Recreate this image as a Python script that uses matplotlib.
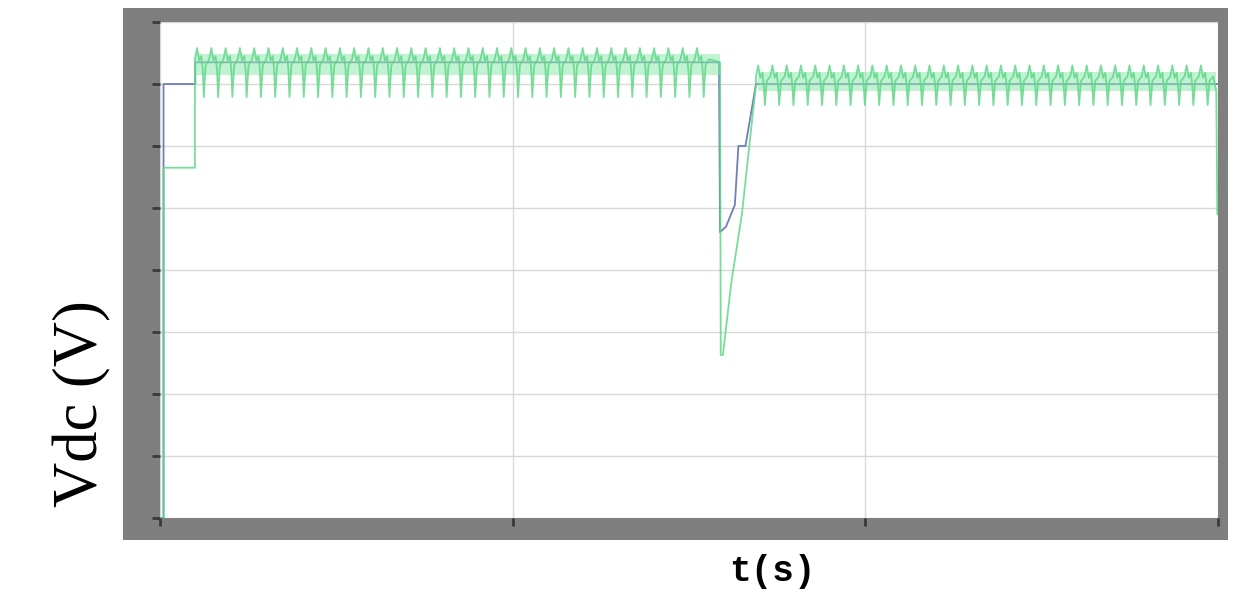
import numpy as np
import matplotlib.pyplot as plt
from matplotlib.patches import Rectangle

# --- values (t in s, Vdc in V) ---
# reference / measured DC-link voltage, corner points
blue_t = [0.0, 0.001, 0.001, 0.010, 0.010, 0.1585, 0.1588, 0.1605, 0.1630, 0.1640, 0.1660, 0.1690, 0.3000]
blue_v = [0, 0, 700, 700, 735, 735, 461, 470, 505, 600, 600, 700, 700]

# green trace: start-up, dip and recovery corner points
green_start_t = [0.0, 0.001, 0.001, 0.0099]
green_start_v = [0, 0, 565, 565]
green_dip_t = [0.1588, 0.1590, 0.1596, 0.1620, 0.1650, 0.1690]
green_dip_v = [735, 263, 263, 380, 490, 700]
green_end_t = [0.2995, 0.2998]
green_end_v = [690, 490]

# one ripple period (fraction of period, voltage) for each steady segment
tooth_frac = [0.0, 0.15, 0.30, 0.45, 0.55, 0.62, 0.75, 1.0]
tooth1_v = [740, 758, 738, 745, 722, 679, 730, 740]
tooth2_v = [712, 730, 710, 718, 695, 666, 705, 712]
seg1 = (0.0099, 0.1588)
seg2 = (0.1690, 0.2995)
period = 0.00405

# dense part of the ripple band (lower, upper) per segment
band1 = (715, 748)
band2 = (688, 720)


def ripple(t0, t1, vals):
    n = int((t1 - t0) / period)
    tt, vv = [], []
    for k in range(n):
        for f, v in zip(tooth_frac, vals):
            tt.append(t0 + (k + f) * period)
            vv.append(v)
    return tt, vv


r1_t, r1_v = ripple(seg1[0], seg1[1], tooth1_v)
r2_t, r2_v = ripple(seg2[0], seg2[1], tooth2_v)
green_t = green_start_t + r1_t + green_dip_t + r2_t + green_end_t
green_v = green_start_v + r1_v + green_dip_v + r2_v + green_end_v

fig = plt.figure(figsize=(12.54, 5.92), dpi=100)

# grey scope frame behind the axes
frame = fig.add_axes([0.0981, 0.0878, 0.8812, 0.8986], zorder=0)
frame.add_patch(Rectangle((0, 0), 1, 1, transform=frame.transAxes,
                          facecolor='#7f7f7f', edgecolor='none'))
frame.axis('off')

ax = fig.add_axes([0.1276, 0.125, 0.8437, 0.8378], zorder=1)
ax.set_facecolor('white')
ax.plot(blue_t, blue_v, color='#6f7fb8', lw=1.3, zorder=2)
ax.fill_between(seg1, band1[0], band1[1], color='#8fe8ad', alpha=0.55, lw=0, zorder=2.5)
ax.fill_between([seg2[0] + 0.0005, seg2[1]], band2[0], band2[1], color='#8fe8ad',
                alpha=0.55, lw=0, zorder=2.5)
ax.plot(green_t, green_v, color='#5fd887', lw=1.3, alpha=0.85, zorder=3)

ax.set_xlim(0, 0.3)
ax.set_ylim(0, 800)
ax.set_xticks([0, 0.1, 0.2, 0.3])
ax.set_yticks(range(0, 801, 100))
ax.tick_params(direction='out', length=6, width=2, color='#3a3a3a',
               labelleft=False, labelbottom=False)
ax.grid(True, color='#d8d8d8', lw=1)
for s in ax.spines.values():
    s.set_visible(False)

fig.text(0.066, 0.318, 'Vdc (V)', rotation=90, ha='center', va='center',
         family='Liberation Serif', fontsize=45)
fig.text(0.616, 0.034, 't(s)', ha='center', va='center',
         family='Liberation Mono', fontweight='bold', fontsize=26)

fig.savefig('out.png', dpi=100)
